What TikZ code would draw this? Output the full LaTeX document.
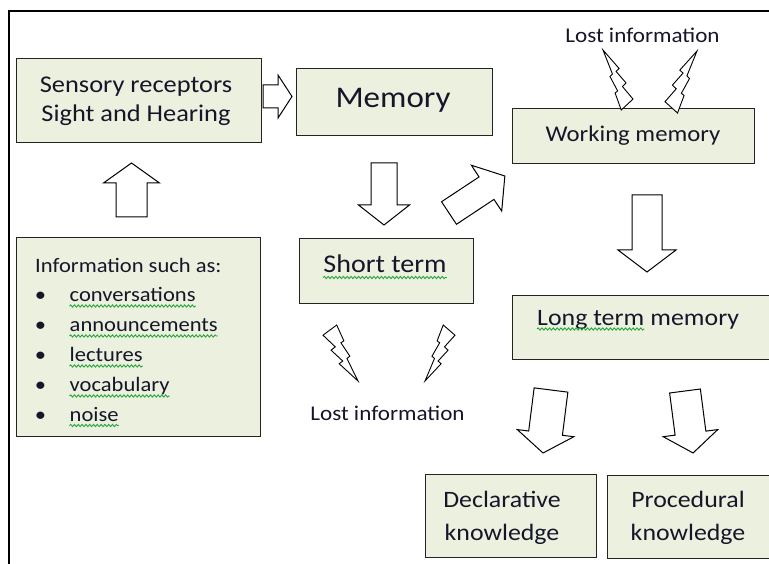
\documentclass[tikz,border=0pt]{standalone}
\usepackage{fontspec}
\setmainfont{Carlito}[FakeStretch=1.1]
\usetikzlibrary{decorations.pathmorphing}
\definecolor{boxfill}{RGB}{235,241,222}
\definecolor{ink}{RGB}{22,22,42}
\definecolor{wavegreen}{RGB}{40,165,60}
\definecolor{edgecol}{RGB}{35,35,35}
\tikzset{
  box/.style={draw=edgecol, fill=boxfill, line width=1.4pt, inner sep=0pt, anchor=north west},
  txt/.style={text=ink, inner sep=0pt},
  blockarrow/.style={draw=black, fill=white, line width=1pt, line join=miter},
  boltstyle/.style={draw=black, fill=white, line width=0.9pt, line join=miter},
  wave/.style={draw=wavegreen, line width=0.9pt, decorate, decoration={snake, amplitude=1.1pt, segment length=3.8pt}},
  frameline/.style={draw=black, line width=2pt}
}
% block arrow: tail centre x, y, angle, length, shaft width, head width, head length
\newcommand{\barrow}[7]{\draw[blockarrow, shift={(#1,#2)}, rotate=#3]
  (0,{-(#5)/2}) -- ({#4-#7},{-(#5)/2}) -- ({#4-#7},{-(#6)/2}) -- (#4,0) --
  ({#4-#7},{(#6)/2}) -- ({#4-#7},{(#5)/2}) -- (0,{(#5)/2}) -- cycle;}
% lightning bolt: origin x, y, xscale, yscale
\newcommand{\lbolt}[4]{\draw[boltstyle, shift={(#1,#2)}, xscale=#3, yscale=#4]
  (0.392,0) -- (0,0.182) -- (0.350,0.390) -- (0.231,0.450) -- (0.565,0.644) --
  (0.462,0.691) -- (1,1) -- (0.684,0.598) -- (0.767,0.557) -- (0.511,0.317) --
  (0.596,0.283) -- cycle;}
\begin{document}
\begin{tikzpicture}[x=1pt, y=-1pt]
\clip (0,0) rectangle (769,564);
\fill[white] (0,0) rectangle (769,564);
% frame
\draw[frameline] (9,566) -- (9,11) -- (771,11);

% boxes
\node[box, minimum width=245pt, minimum height=84pt] (sens) at (16,58) {};
\node[box, minimum width=196pt, minimum height=67pt] (mem) at (296,68) {};
\node[box, minimum width=244pt, minimum height=199pt] (info) at (16,237) {};
\node[box, minimum width=174pt, minimum height=65pt] (short) at (299,238) {};
\node[box, minimum width=242pt, minimum height=55pt] (work) at (512,108) {};
\node[box, minimum width=270pt, minimum height=64pt] (long) at (512,295) {};
\node[box, minimum width=171pt, minimum height=83pt] (decl) at (425,474) {};
\node[box, minimum width=170pt, minimum height=83pt] (proc) at (607,475) {};

% texts
\node[txt, anchor=base, font=\fontsize{24}{28}\selectfont] (sensA) at (136,93) {Sensory receptors};
\node[txt, anchor=base, font=\fontsize{24}{28}\selectfont] (sensB) at (136,121.5) {Sight and Hearing};
\node[txt, anchor=base, font=\fontsize{30}{36}\selectfont] (memT) at (393,108) {Memory};
\node[txt, anchor=base, font=\fontsize{22.5}{27}\selectfont] (workT) at (633,141.5) {Working memory};
\node[txt, anchor=base, font=\fontsize{25.5}{30}\selectfont] (shortT) at (385,273) {Short term};
\draw[wave] ([yshift=-4.5pt]shortT.base west) -- ([yshift=-4.5pt]shortT.base east);
\node[txt, anchor=base west, font=\fontsize{23.5}{28}\selectfont] (longA) at (537,326) {Long term};
\node[txt, anchor=base west, font=\fontsize{23.5}{28}\selectfont] (longB) at (longA.base east) {\ memory};
\draw[wave] ([yshift=-3pt]longA.base west) -- ([yshift=-3pt]longA.base east);
\node[txt, anchor=base, font=\fontsize{23.5}{28}\selectfont] (declA) at (502,507) {Declarative};
\node[txt, anchor=base, font=\fontsize{23.5}{28}\selectfont] (declB) at (502,540) {knowledge};
\node[txt, anchor=base, font=\fontsize{23.5}{28}\selectfont] (procA) at (688,507) {Procedural};
\node[txt, anchor=base, font=\fontsize{23.5}{28}\selectfont] (procB) at (688,540) {knowledge};
\node[txt, anchor=base, font=\fontsize{21}{25}\selectfont] (lostTop) at (642.5,42.5) {Lost information};
\node[txt, anchor=base, font=\fontsize{21}{25}\selectfont] (lostBot) at (387.5,420) {Lost information};

% information list
\node[txt, anchor=base west, font=\fontsize{20.5}{25}\selectfont] (infoT) at (35,273) {Information such as:};
\foreach \y/\w/\nm in {301.5/conversations/i1, 331.5/announcements/i2, 361.5/lectures/i3, 391.5/vocabulary/i4, 421/noise/i5}{
  \node[txt, anchor=base, font=\fontsize{20.5}{25}\selectfont] (b\nm) at (40.5,\y) {\textbullet};
  \node[txt, anchor=base west, font=\fontsize{20.5}{25}\selectfont] (\nm) at (69.5,\y) {\w};
  \draw[wave] ([yshift=-4.5pt]\nm.base west) -- ([yshift=-4.5pt]\nm.base east);
}

% block arrows
\barrow{263}{96.5}{0}{29}{23}{43}{14}
\barrow{131.5}{217}{90}{54}{31}{56}{20}
\barrow{384}{163}{-90}{62}{26}{51}{20}
\barrow{449}{213}{33.5}{67}{27}{55}{22}
\barrow{647}{195}{-90}{77}{30}{58}{22}
\barrow{551}{390}{-97.2}{63.5}{34}{57}{20}
\barrow{685}{391}{-82.6}{62.5}{31}{55}{20}

% lightning bolts
\lbolt{323}{325}{35}{56}
\lbolt{455}{325}{-30}{56}
\lbolt{633}{110}{-30}{-60}
\lbolt{665}{113}{32}{-62}
\end{tikzpicture}
\end{document}
